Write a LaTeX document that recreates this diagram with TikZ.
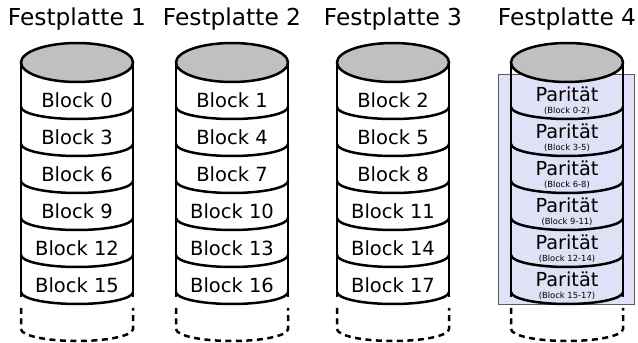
\documentclass[tikz,border=0pt]{standalone}
\usepackage{fontspec}
\setmainfont{DejaVu Sans}
\definecolor{diskgray}{RGB}{192,192,192}
\definecolor{parfill}{RGB}{224,224,247}
\definecolor{parborder}{RGB}{90,90,90}
\begin{document}
\begin{tikzpicture}[x=1pt,y=1pt,
  disk/.style={line width=2.5pt},
  titletext/.style={font=\fontsize{23.3}{27}\selectfont, anchor=base, inner sep=0},
  blocktext/.style={font=\fontsize{19.5}{23}\selectfont, inner sep=0},
  partext/.style={font=\fontsize{19.3}{23}\selectfont, inner sep=0},
  subtext/.style={font=\fontsize{8.4}{10}\selectfont, inner sep=0},
  dashpart/.style={line width=2.5pt, dash pattern=on 6pt off 4.5pt}]
\useasboundingbox (0,0) rectangle (638,343);
\filldraw[fill=parfill, draw=parborder, line width=1pt] (498,268) rectangle (634,38);
\foreach \i/\cx in {1/77,2/232,3/393,4/567} {
  \node[titletext] (t\i) at (\cx,317) {Festplatte \i};
  \draw[disk] (\cx-56,280.5) -- (\cx-56,46);
  \draw[disk] (\cx+56,280.5) -- (\cx+56,46);
  \filldraw[disk, fill=diskgray] (\cx,280.5) ellipse [x radius=56, y radius=19.5];
  \foreach \k in {0,...,5} {
    \draw[disk] (\cx-56,236-37*\k) arc[start angle=180,end angle=360,x radius=56,y radius=12];
  }
  \draw[dashpart] (\cx-56,35) -- (\cx-56,14) arc[start angle=180,end angle=360,x radius=56,y radius=12] -- (\cx+56,35);
}
\foreach \i/\cx in {1/77,2/232,3/393} {
  \foreach \k in {0,...,5} {
    \pgfmathtruncatemacro{\bn}{3*\k+\i-1}
    \node[blocktext] (b\i-\k) at (\cx,243-37*\k) {Block \bn};
  }
}
\foreach \k in {0,...,5} {
  \pgfmathtruncatemacro{\ba}{3*\k}
  \pgfmathtruncatemacro{\bb}{3*\k+2}
  \node[partext] (p\k) at (567,249-37*\k) {Parität};
  \node[subtext] (s\k) at (567,232.3-37*\k) {(Block \ba-\bb)};
}
\end{tikzpicture}
\end{document}
